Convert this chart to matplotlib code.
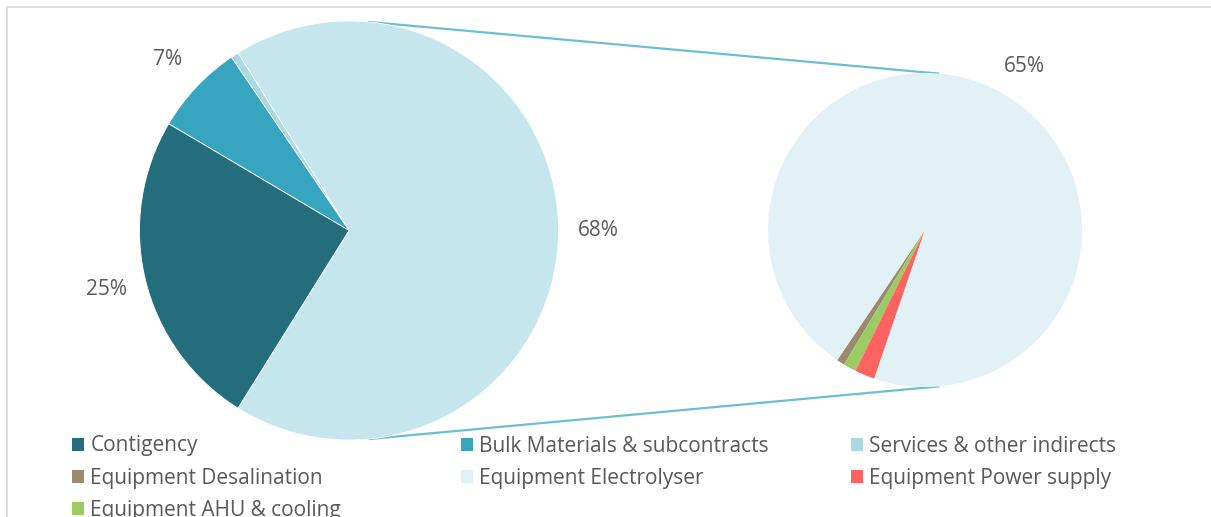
import numpy as np
import matplotlib
matplotlib.use("Agg")
import matplotlib.pyplot as plt
from matplotlib.patches import Patch

plt.rcParams["font.family"] = ["Open Sans", "DejaVu Sans"]

# Cost breakdown, % of total CAPEX
main_names = ["Contigency", "Bulk Materials & subcontracts", "Services & other indirects"]
main_values = [24.6, 7.0, 0.6]
main_colours = ["#246D7C", "#37A5BF", "#A9D9E3"]

equip_names = ["Equipment Desalination", "Equipment AHU & cooling",
               "Equipment Power supply", "Equipment Electrolyser"]
equip_values = [0.55, 0.9, 1.4, 64.9]
equip_colours = ["#9C8A6E", "#9BCB62", "#FF6361", "#E2F1F6"]

GROUP_COLOUR = "#C5E6ED"
LINE_COLOUR = "#6CBED3"
TEXT_COLOUR = "#595959"

W, H = 1211, 517
fig = plt.figure(figsize=(W / 100, H / 100), dpi=100)
ax = fig.add_axes([0, 0, 1, 1])

total = sum(main_values) + sum(equip_values)
group_value = sum(equip_values)

# Primary pie: the equipment group sits centred on the right-hand side,
# the remaining items follow counter-clockwise from its top edge.
c1, r1 = np.array([349.0, H - 230.5]), 209.5
vals1 = [group_value] + main_values[::-1]
cols1 = [GROUP_COLOUR] + main_colours[::-1]
start1 = -group_value / total * 180.0
wedges1, _ = ax.pie(vals1, colors=cols1, startangle=start1,
                    counterclock=True, center=tuple(c1), radius=r1,
                    wedgeprops=dict(linewidth=0.6, edgecolor="white"))

# Secondary pie breaks down the equipment group.
c2, r2 = np.array([925.0, H - 230.0]), 157.0
wedges2, _ = ax.pie(equip_values, colors=equip_colours, startangle=236,
                    counterclock=True, center=tuple(c2), radius=r2,
                    wedgeprops=dict(linewidth=0))
ax.set_xlim(0, W)
ax.set_ylim(0, H)
ax.set_aspect("equal")
ax.axis("off")

# Percentage labels
def put_label(wedge, value, centre, radius, dist, shift=0.0):
    mid = np.deg2rad((wedge.theta1 + wedge.theta2) / 2 + shift)
    x = centre[0] + dist * radius * np.cos(mid)
    y = centre[1] + dist * radius * np.sin(mid)
    ax.text(x, y, f"{value / total * 100:.0f}%", ha="center", va="center",
            fontsize=15, color=TEXT_COLOUR)

put_label(wedges1[0], group_value, c1, r1, 1.19)
put_label(wedges1[2], main_values[1], c1, r1, 1.19)
put_label(wedges1[3], main_values[0], c1, r1, 1.19)
put_label(wedges2[3], equip_values[3], c2, r2, 1.22, shift=-5)

# Connector lines along the outer common tangents of both circles
d = c2 - c1
dist = np.linalg.norm(d)
base = np.arctan2(d[1], d[0])
phi = np.arccos((r1 - r2) / dist)
for sgn in (1, -1):
    a = base + sgn * phi
    u = np.array([np.cos(a), np.sin(a)])
    p1, p2 = c1 + r1 * u, c2 + r2 * u
    ax.plot([p1[0], p2[0]], [p1[1], p2[1]], color=LINE_COLOUR, lw=1.6,
            solid_capstyle="butt", zorder=0)

# Chart-area border
ax.plot([6.5, 6.5, W + 5], [-5, H - 6.5, H - 6.5], color="#D9D9D9", lw=1.2)

# Legend, laid out row by row in three columns
columns = [
    [(main_names[0], main_colours[0]), (equip_names[0], equip_colours[0]),
     (equip_names[1], equip_colours[1])],
    [(main_names[1], main_colours[1]), (equip_names[3], equip_colours[3])],
    [(main_names[2], main_colours[2]), (equip_names[2], equip_colours[2])],
]
col_x = [72, 461, 851]
for x0, entries in zip(col_x, columns):
    handles = [Patch(facecolor=c, edgecolor="none", label=n) for n, c in entries]
    fig.legend(handles=handles, loc="upper left",
               bbox_to_anchor=(x0 / W, 1 - 435.5 / H), frameon=False,
               fontsize=15, labelcolor=TEXT_COLOUR, borderpad=0,
               borderaxespad=0, handlelength=0.58, handleheight=0.58,
               handletextpad=0.3, labelspacing=0.53)

fig.savefig("out.png", dpi=100)
